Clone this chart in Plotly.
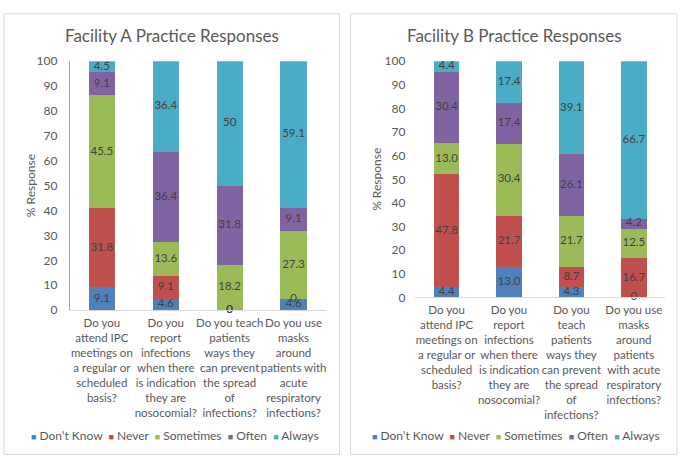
import numpy as np
import plotly.graph_objects as go

W, H = 685, 472

series = ["Don’t Know", "Never", "Sometimes", "Often", "Always"]
colors = ["#4F81BD", "#C0504D", "#9BBB59", "#8064A2", "#4BACC6"]

questions_a = [
    "Do you<br>attend IPC<br>meetings on<br>a regular or<br>scheduled<br>basis?",
    "Do you<br>report<br>infections<br>when there<br>is indication<br>they are<br>nosocomial?",
    "Do you teach<br>patients<br>ways they<br>can prevent<br>the spread<br>of<br>infections?",
    "Do you use<br>masks<br>around<br>patients with<br>acute<br>respiratory<br>infections?",
]
questions_b = [
    "Do you<br>attend IPC<br>meetings on<br>a regular or<br>scheduled<br>basis?",
    "Do you<br>report<br>infections<br>when there<br>is indication<br>they are<br>nosocomial?",
    "Do you<br>teach<br>patients<br>ways they<br>can prevent<br>the spread<br>of<br>infections?",
    "Do you use<br>masks<br>around<br>patients<br>with acute<br>respiratory<br>infections?",
]

# Facility A values per series (one value per question)
a_dont_know = [9.1, 4.6, 0, 4.6]
a_never = [31.8, 9.1, 0, 0]
a_sometimes = [45.5, 13.6, 18.2, 27.3]
a_often = [9.1, 36.4, 31.8, 9.1]
a_always = [4.5, 36.4, 50, 59.1]
a_labels = [
    ["9.1", "4.6", "0", "4.6"],
    ["31.8", "9.1", "0", "0"],
    ["45.5", "13.6", "18.2", "27.3"],
    ["9.1", "36.4", "31.8", "9.1"],
    ["4.5", "36.4", "50", "59.1"],
]

# Facility B values per series
b_dont_know = [4.4, 13.0, 4.3, 0]
b_never = [47.8, 21.7, 8.7, 16.7]
b_sometimes = [13.0, 30.4, 21.7, 12.5]
b_often = [30.4, 17.4, 26.1, 4.2]
b_always = [4.4, 17.4, 39.1, 66.7]
b_labels = [
    ["4.4", "13.0", "4.3", "0"],
    ["47.8", "21.7", "8.7", "16.7"],
    ["13.0", "30.4", "21.7", "12.5"],
    ["30.4", "17.4", "26.1", "4.2"],
    ["4.4", "17.4", "39.1", "66.7"],
]

facility_a = [a_dont_know, a_never, a_sometimes, a_often, a_always]
facility_b = [b_dont_know, b_never, b_sometimes, b_often, b_always]

FONT = "Lato, 'Open Sans', sans-serif"
GREY = "#595959"


def px(x):
    return x / W


def py(y):
    return 1 - y / H


fig = go.Figure()


def add_panel(values, labels, questions, xa, ya):
    base = np.zeros(len(questions))
    for name, color, vals, labs in zip(series, colors, values, labels):
        vals = np.array(vals, dtype=float)
        fig.add_trace(go.Bar(x=questions, y=vals, name=name, marker_color=color,
                             marker_line_width=0, xaxis=xa, yaxis=ya,
                             showlegend=False, hoverinfo="skip"))
        # data labels centred in each segment
        fig.add_trace(go.Scatter(x=questions, y=base + vals / 2, text=labs, mode="text",
                                 textfont=dict(family=FONT, size=11.5, color="#404040"),
                                 xaxis=xa, yaxis=ya, showlegend=False,
                                 hoverinfo="skip", cliponaxis=False))
        base = base + vals


add_panel(facility_a, a_labels, questions_a, "x", "y")
add_panel(facility_b, b_labels, questions_b, "x2", "y2")

axis_font = dict(family=FONT, size=12, color=GREY)
xcommon = dict(type="category", showgrid=False, ticks="", tickangle=0,
               tickfont=dict(family=FONT, size=11.5, color=GREY),
               showline=True, linecolor="#D9D9D9", linewidth=1, ticklabelstandoff=2, fixedrange=True)
ycommon = dict(range=[0, 100], dtick=10, showgrid=False, zeroline=False, ticks="",
               tickfont=axis_font, ticklabelstandoff=9, fixedrange=True)

fig.update_layout(
    width=W, height=H,
    margin=dict(l=0, r=0, t=0, b=0),
    paper_bgcolor="white", plot_bgcolor="white",
    barmode="stack", bargap=0.59,
    showlegend=False,
    xaxis=dict(domain=[px(70), px(326)], anchor="y", **xcommon),
    yaxis=dict(domain=[py(312), py(55)], anchor="x", showline=True, linecolor="#7FA3D0",
               linewidth=1, **ycommon),
    xaxis2=dict(domain=[px(416), px(666)], anchor="y2", **xcommon),
    yaxis2=dict(domain=[py(299), py(55)], anchor="x2", showline=False, **ycommon),
)

# panel borders
for x0, x1 in [(4, 340), (351, 678)]:
    fig.add_shape(type="rect", xref="paper", yref="paper", x0=px(x0), x1=px(x1),
                  y0=py(461), y1=py(6), line=dict(color="#D9D9D9", width=1))

# titles
for text, xc in [("Facility A Practice Responses", 172), ("Facility B Practice Responses", 515)]:
    fig.add_annotation(text=text, x=px(xc), y=py(28), xref="paper", yref="paper",
                       xanchor="center", yanchor="middle",
                       showarrow=False, font=dict(family=FONT, size=17, color=GREY))

# y axis titles
for xc, yc in [(30, 183), (377, 177)]:
    fig.add_annotation(text="% Response", x=px(xc), y=py(yc), xref="paper", yref="paper",
                       xanchor="center", yanchor="middle",
                       showarrow=False, textangle=-90, font=axis_font)

# legends drawn as text rows below each panel
legend_text = "&nbsp;&nbsp;".join(
    f'<span style="color:{c};font-size:9px">■</span> {n}' for n, c in zip(series, colors))
for xc in [175, 517]:
    fig.add_annotation(text=legend_text, x=px(xc), y=py(442), xref="paper", yref="paper",
                       xanchor="center", yanchor="middle",
                       showarrow=False, font=axis_font)

# pin the figure to the top-left corner of the window
page_js = ("document.body.style.margin='0';"
           "var d=document.getElementById('{plot_id}');"
           "d.style.position='fixed';d.style.top='0px';d.style.left='0px';")
fig.write_html("out.html", post_script=page_js, config={"displayModeBar": False})
